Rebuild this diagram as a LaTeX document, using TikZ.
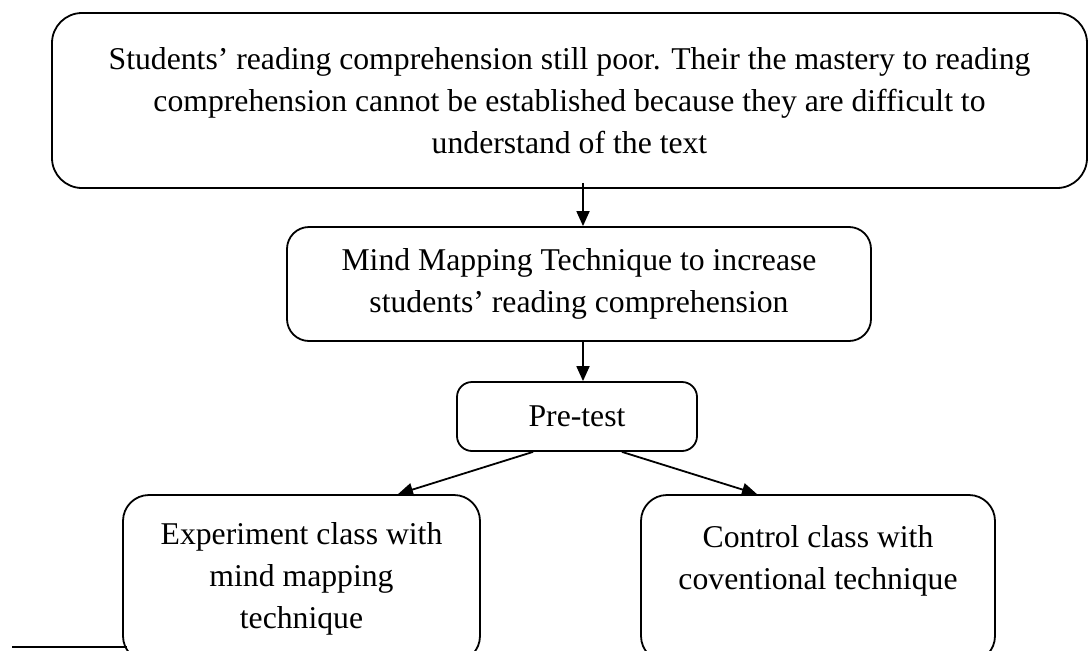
\documentclass[tikz,border=0pt]{standalone}
\usepackage{fontspec}
\setmainfont{Liberation Serif}
\usetikzlibrary{arrows.meta}

\tikzset{
  flowbox/.style={draw, line width=1.8pt, inner sep=0pt, align=center,
    font=\fontsize{31.7}{42}\selectfont},
  arr/.style={line width=1.8pt, -{Triangle[length=15pt,width=13pt]}}
}

\begin{document}
\begin{tikzpicture}[x=1pt, y=-1pt]
  \useasboundingbox (0,0) rectangle (1088,651);

  % problem statement
  \node[flowbox, rounded corners=30pt, minimum width=1035pt, minimum height=175pt]
    (problem) at (569.5,100.5)
    {Students' reading comprehension still poor. Their the mastery to reading\\
     comprehension cannot be established because they are difficult to\\
     understand of the text};

  % proposed technique
  \node[flowbox, rounded corners=22pt, minimum width=584pt, minimum height=114pt]
    (technique) at (579,284)
    {Mind Mapping Technique to increase\\students' reading comprehension};

  % pre-test
  \node[flowbox, rounded corners=15pt, minimum width=240pt, minimum height=69pt]
    (pretest) at (577,416.5) {Pre-test};

  % the two classes
  \node[flowbox, rounded corners=26pt, minimum width=357pt, minimum height=167pt]
    (experiment) at (301.5,578.5)
    {Experiment class with\\mind mapping\\technique};
  \node[flowbox, rounded corners=26pt, minimum width=354pt, minimum height=167pt]
    (control) at (818,578.5)
    {Control class with\\coventional technique\\~};

  % connectors
  \draw[arr] ([xshift=13.5pt,yshift=6pt]problem.south) -- ([xshift=4pt]technique.north);
  \draw[arr] ([xshift=4pt]technique.south) -- ([xshift=6pt]pretest.north);
  \draw[arr] ([xshift=-44pt]pretest.south) -- ([xshift=96.5pt]experiment.north);
  \draw[arr] ([xshift=45pt]pretest.south) -- ([xshift=-61pt]control.north);

  % rule at the foot of the page
  \coordinate (ruleA) at (12,647);
  \coordinate (ruleB) at (127,647);
  \draw[line width=1.8pt] (ruleA) -- (ruleB);
\end{tikzpicture}
\end{document}
